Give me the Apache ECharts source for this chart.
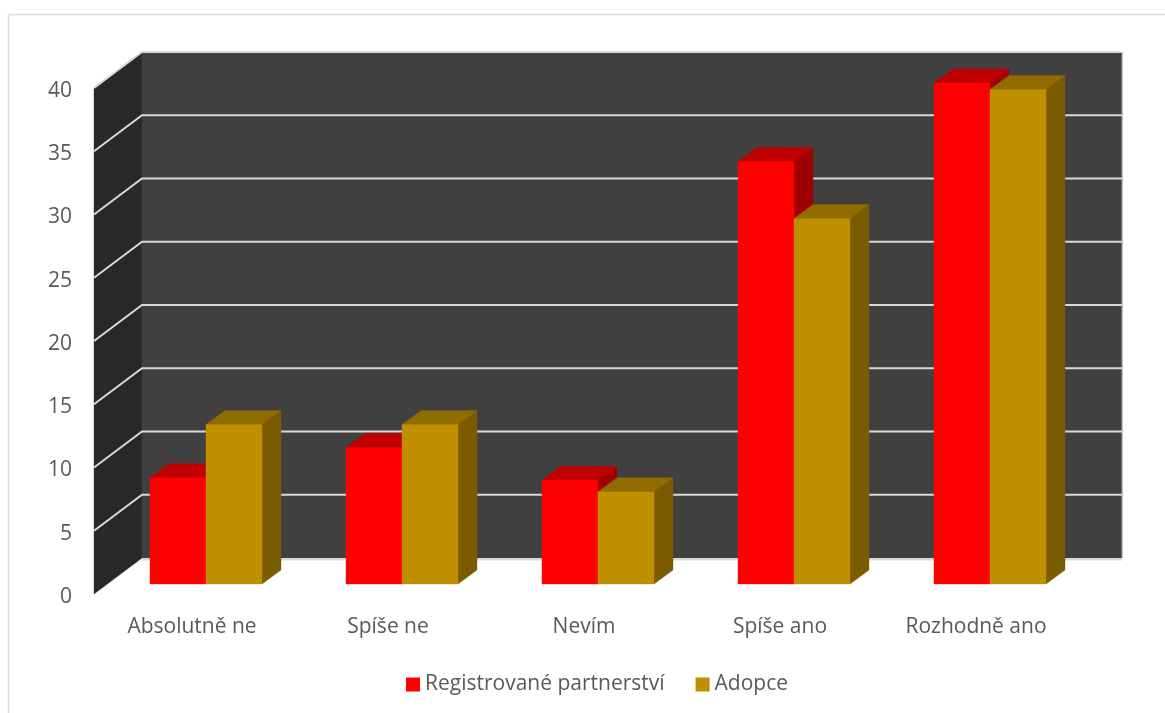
<!DOCTYPE html>
<html>
<head>
<meta charset="utf-8">
<script src="https://cdn.jsdelivr.net/npm/echarts@6/dist/echarts.min.js"></script>
<style>html,body{margin:0;padding:0;background:#fff}#c{width:1165px;height:713px}</style>
</head>
<body>
<div id="c"></div>
<script>
var categories = ['Absolutně ne', 'Spíše ne', 'Nevím', 'Spíše ano', 'Rozhodně ano'];
var partnership = [8.4, 10.8, 8.2, 33.4, 39.6];
var adoption = [12.6, 12.6, 7.3, 28.9, 39.1];
var yTicks = [0, 5, 10, 15, 20, 25, 30, 35, 40];

var DX = 48, DY = -36;          // wall depth
var OX = 14, OY = -10;          // bar plane offset
var BAR_DX = 19, BAR_DY = -14;  // bar depth
var BAR_W = 56;

function poly(points, fill) {
  return { type: 'polygon', shape: { points: points }, style: { fill: fill, stroke: fill, lineWidth: 0.4 }, silent: true };
}

function renderWall(params, api) {
  var v = api.value(0);
  var p = api.coord([0, v]);
  var cs = params.coordSys;
  var left = cs.x, right = cs.x + cs.width;
  var children = [];
  if (params.dataIndex === 0) {
    var top = cs.y, bottom = cs.y + cs.height;
    children.push(poly([[left, top], [left + DX, top + DY], [left + DX, bottom + DY], [left, bottom]], '#282828'));
    children.push(poly([[left + DX, top + DY], [right + DX, top + DY], [right + DX, bottom + DY], [left + DX, bottom + DY]], '#404040'));
    children.push({ type: 'line', shape: { x1: right + DX, y1: top + DY, x2: right + DX, y2: bottom + DY },
      style: { stroke: '#a6a6a6', lineWidth: 1 }, silent: true });
  }
  if (v === yTicks[0]) {
    children.push({ type: 'line', shape: { x1: left + DX, y1: p[1] + DY + 1.5, x2: right + DX, y2: p[1] + DY + 1.5 },
      style: { stroke: '#d9d9d9', lineWidth: 2 }, silent: true });
  } else {
    children.push({ type: 'polyline', shape: { points: [[left, p[1]], [left + DX, p[1] + DY], [right + DX, p[1] + DY]] },
      style: { stroke: '#d9d9d9', lineWidth: 2, fill: null }, silent: true });
  }
  return { type: 'group', children: children };
}

function barRenderer(side, front, topColor, sideColor) {
  return function (params, api) {
    var c = api.coord([api.value(0), api.value(1)]);
    var b = api.coord([api.value(0), 0]);
    var x0 = c[0] + OX + (side === 0 ? -BAR_W : 0), x1 = x0 + BAR_W;
    var yt = c[1] + OY, yb = b[1] + OY;
    return { type: 'group', children: [
      poly([[x1, yt], [x1 + BAR_DX, yt + BAR_DY], [x1 + BAR_DX, yb + BAR_DY], [x1, yb]], sideColor),
      poly([[x0, yt], [x0 + BAR_DX, yt + BAR_DY], [x1 + BAR_DX, yt + BAR_DY], [x1, yt]], topColor),
      poly([[x0, yt], [x1, yt], [x1, yb], [x0, yb]], front)
    ] };
  };
}

function indexed(values) {
  return values.map(function (v, i) { return [i, v]; });
}

var font = '"Open Sans", "Noto Sans", sans-serif';
var chart = echarts.init(document.getElementById('c'), null, { renderer: 'canvas' });
chart.setOption({
  animation: false,
  backgroundColor: '#fff',
  graphic: [{ type: 'polyline', z: -1, silent: true,
    shape: { points: [[8.5, 713], [8.5, 14.5], [1165, 14.5]] },
    style: { stroke: '#dcdcdc', lineWidth: 1.6, fill: null } }],
  grid: { left: 94, top: 88, width: 980, height: 506, containLabel: false },
  xAxis: {
    type: 'category', data: categories,
    axisLine: { show: false }, axisTick: { show: false }, splitLine: { show: false },
    axisLabel: { color: '#595959', fontSize: 21, fontFamily: font, margin: 23 }
  },
  yAxis: {
    type: 'value', min: 0, max: 40, interval: 5,
    axisLine: { show: false }, axisTick: { show: false }, splitLine: { show: false },
    axisLabel: { color: '#595959', fontSize: 21, fontFamily: font, margin: 22, verticalAlign: 'top', lineHeight: 6 }
  },
  legend: {
    left: 406, top: 674, padding: 0, itemWidth: 14, itemHeight: 14, itemGap: 31, icon: 'rect',
    textStyle: { color: '#595959', fontSize: 21, fontFamily: font },
    data: [
      { name: 'Registrované partnerství', itemStyle: { color: '#ff0000' } },
      { name: 'Adopce', itemStyle: { color: '#bf8f00' } }
    ]
  },
  series: [
    { type: 'custom', name: 'wall', silent: true, z: 1, clip: false,
      data: yTicks.map(function (v) { return [v]; }),
      encode: { y: 0 }, renderItem: renderWall },
    { type: 'custom', name: 'Registrované partnerství', z: 2, clip: false,
      itemStyle: { color: '#ff0000' }, data: indexed(partnership),
      encode: { x: 0, y: 1 }, renderItem: barRenderer(0, '#ff0000', '#c00000', '#a00000') },
    { type: 'custom', name: 'Adopce', z: 3, clip: false,
      itemStyle: { color: '#bf8f00' }, data: indexed(adoption),
      encode: { x: 0, y: 1 }, renderItem: barRenderer(1, '#bf8f00', '#8f6b00', '#7a5b00') }
  ]
});
</script>
</body>
</html>
